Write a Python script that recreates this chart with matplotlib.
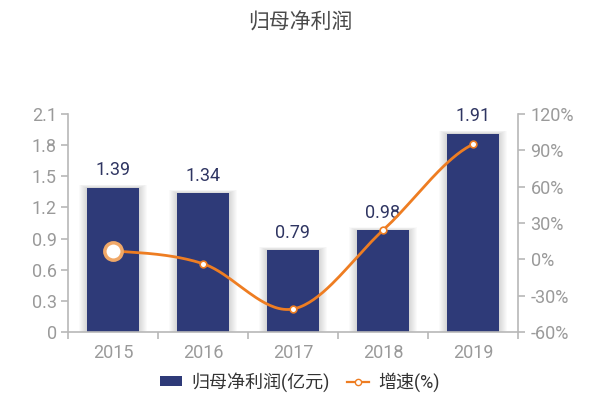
import numpy as np
import matplotlib
matplotlib.use("Agg")
import matplotlib.pyplot as plt
from matplotlib.patches import Rectangle
from matplotlib.lines import Line2D

plt.rcParams['font.family'] = ['Roboto', 'Noto Sans CJK SC', 'DejaVu Sans']

years = ['2015', '2016', '2017', '2018', '2019']
profit = [1.39, 1.34, 0.79, 0.98, 1.91]
growth = [7.0, -3.6, -41.0, 24.0, 95.0]
title = '归母净利润'
bar_label = '归母净利润(亿元)'
line_label = '增速(%)'
left_ticks = [0, 0.3, 0.6, 0.9, 1.2, 1.5, 1.8, 2.1]
right_ticks = [-60, -30, 0, 30, 60, 90, 120]

BAR = '#2E3A78'
ORANGE = '#EE7D22'
AXIS = '#B8B8B8'
TICKC = '#9A9A9A'

fig = plt.figure(figsize=(6, 4.08), dpi=100)
ax = fig.add_axes([68/600, 1-332/408, 450/600, 218/408])
ax2 = ax.twinx()

x = np.arange(len(years))
w = 0.57

# soft shadow behind bars
for i, v in enumerate(profit):
    for k in range(8):
        ext = 0.012 * (k + 1)
        ax.add_patch(Rectangle((x[i] - w/2 - ext, 0), w + 2*ext, v + ext*0.3,
                               facecolor='black', alpha=0.018, lw=0, zorder=1))
ax.bar(x, profit, width=w, color=BAR, zorder=2)
for i, v in enumerate(profit):
    ax.text(x[i], v + 0.08, f'{v:.2f}', ha='center', va='bottom',
            fontsize=13, color='#2F3562', zorder=5)

ax.set_xlim(-0.5, len(years) - 0.5)
ax.set_ylim(0, 2.1)
ax.set_yticks(left_ticks)
ax.set_yticklabels(['0' if t == 0 else f'{t:.1f}' for t in left_ticks])
ax.set_xticks(x)
ax.set_xticklabels(years)
ax.set_xticks(np.arange(-0.5, len(years), 1.0), minor=True)
ax.tick_params(axis='x', which='major', length=0, labelsize=13, labelcolor=TICKC, pad=9)
ax.tick_params(axis='x', which='minor', length=5, color=AXIS, width=1.2)
ax.tick_params(axis='y', length=5, color=AXIS, width=1.2, labelsize=13, labelcolor=TICKC, pad=3)

ax2.set_ylim(-60, 120)
ax2.set_yticks(right_ticks)
ax2.set_yticklabels([f'{t}%' for t in right_ticks])
ax2.tick_params(axis='y', length=5, color=AXIS, width=1.2, labelsize=13, labelcolor=TICKC, pad=4)

for a in (ax, ax2):
    a.spines['top'].set_visible(False)
    for s in ['left', 'right', 'bottom']:
        a.spines[s].set_color(AXIS)
        a.spines[s].set_linewidth(1.2)
ax.spines['right'].set_visible(False)
ax2.spines['left'].set_visible(False)
ax2.spines['bottom'].set_visible(False)

# smooth curve (Catmull-Rom)
xs = x.astype(float)
ys = np.array(growth, dtype=float)
px = np.concatenate([[2*xs[0]-xs[1]], xs, [2*xs[-1]-xs[-2]]])
py = np.concatenate([[ys[0]], ys, [ys[-1]]])
cx, cy = [], []
t = np.linspace(0, 1, 40)
for i in range(1, len(px) - 2):
    p0, p1, p2, p3 = px[i-1], px[i], px[i+1], px[i+2]
    q0, q1, q2, q3 = py[i-1], py[i], py[i+1], py[i+2]
    cx.append(0.5*((2*p1) + (-p0+p2)*t + (2*p0-5*p1+4*p2-p3)*t**2 + (-p0+3*p1-3*p2+p3)*t**3))
    cy.append(0.5*((2*q1) + (-q0+q2)*t + (2*q0-5*q1+4*q2-q3)*t**2 + (-q0+3*q1-3*q2+q3)*t**3))
cx = np.concatenate(cx); cy = np.concatenate(cy)
ax2.plot(cx, cy, color=ORANGE, lw=2.0, zorder=6, solid_capstyle='round')
ax2.plot(xs[1:], ys[1:], 'o', ms=4.8, mfc='white', mec=ORANGE, mew=1.2, zorder=7, ls='none')
ax2.plot(xs[:1], ys[:1], 'o', ms=12.5, mfc='white', mec='#F0A868', mew=2.5, zorder=7, ls='none')

fig.text(0.5, 1-22/408, title, ha='center', va='center', fontsize=15, color='#4A4A4A')

handles = [Rectangle((0, 0), 1, 1, facecolor=BAR, edgecolor='none'),
           Line2D([0], [0], color=ORANGE, lw=1.6, marker='o', ms=4.5, mfc='white', mec=ORANGE)]
fig.legend(handles, [bar_label, line_label], loc='center', bbox_to_anchor=(0.5, 1-382/408),
           ncol=2, frameon=False, fontsize=13, handlelength=1.2, handleheight=0.45,
           columnspacing=1.0, handletextpad=0.5, labelcolor='#333333')

fig.savefig('out.png', dpi=100, facecolor='white')
